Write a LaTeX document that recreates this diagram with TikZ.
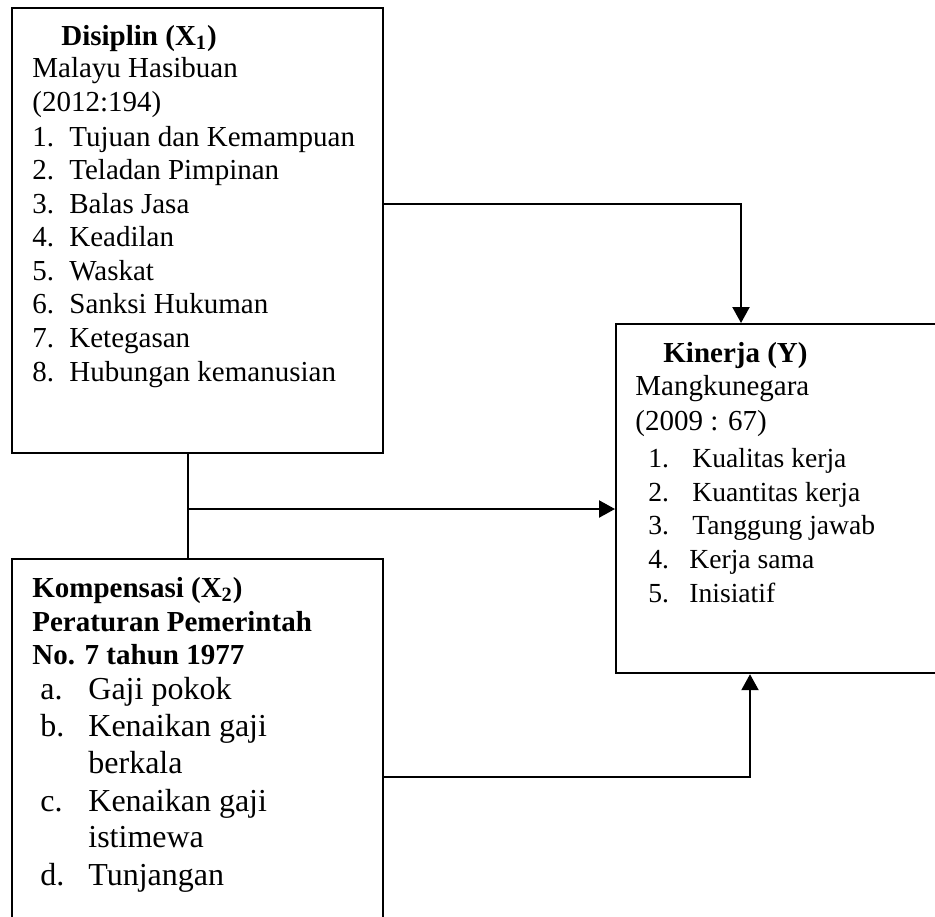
\documentclass[tikz,border=0pt]{standalone}
\usepackage{fontspec}
\setmainfont{Liberation Serif}
\usetikzlibrary{arrows.meta}

\tikzset{
  box/.style={draw,line width=1.1pt,inner sep=0pt,anchor=north west},
  txt/.style={anchor=base west,inner sep=0pt,font=\fontsize{14.5}{17}\selectfont},
  bigtxt/.style={txt,font=\fontsize{16}{19}\selectfont},
  smalltxt/.style={txt,font=\fontsize{13.8}{16}\selectfont},
  head/.style={txt,font=\fontsize{14.5}{17}\selectfont\bfseries},
  arrow/.style={line width=1.1pt,-{Triangle[length=8pt,width=8.5pt]}},
  link/.style={line width=1.1pt}
}

\begin{document}
\begin{tikzpicture}[x=0.5pt,y=-0.5pt]
  \useasboundingbox (0,0) rectangle (935,916);
  \clip (0,0) rectangle (935,916);

  % boxes
  \node[box,minimum width=185.5pt,minimum height=222.5pt] (x1) at (11,7) {};
  \node[box,minimum width=185.5pt,minimum height=191pt] (x2) at (11,558) {};
  \node[box,minimum width=180pt,minimum height=174.5pt] (y) at (615,323) {};

  % Disiplin
  \node[head] (h1) at (61,45) {Disiplin (X\textsubscript{1})};
  \node[txt] (s1) at (32,77) {Malayu Hasibuan};
  \node[txt] (r1) at (32,111) {(2012:194)};
  \foreach \n/\t/\yy in {1/Tujuan dan Kemampuan/146,2/Teladan Pimpinan/179,
      3/Balas Jasa/213,4/Keadilan/246,5/Waskat/280,6/Sanksi Hukuman/313,
      7/Ketegasan/347,8/Hubungan kemanusian/381}
    {
      \node[txt] (d\n) at (32,\yy) {\n.};
      \node[txt] (dt\n) at (69,\yy) {\t};
    }

  % Kompensasi
  \node[head] (h2) at (32,597) {Kompensasi (X\textsubscript{2})};
  \node[head] (s2) at (32,631) {Peraturan Pemerintah};
  \node[head] (r2) at (32,664) {No. 7 tahun 1977};
  \node[bigtxt] (ka) at (40,699) {a.};
  \node[bigtxt] (kta) at (88,699) {Gaji pokok};
  \node[bigtxt] (kb) at (40,736) {b.};
  \node[bigtxt] (ktb) at (88,736) {Kenaikan gaji};
  \node[bigtxt] (ktb2) at (88,773) {berkala};
  \node[bigtxt] (kc) at (40,811) {c.};
  \node[bigtxt] (ktc) at (88,811) {Kenaikan gaji};
  \node[bigtxt] (ktc2) at (88,847) {istimewa};
  \node[bigtxt] (kd) at (40,885) {d.};
  \node[bigtxt] (ktd) at (88,885) {Tunjangan};

  % Kinerja
  \node[head] (h3) at (663,362) {Kinerja (Y)};
  \node[txt] (s3) at (635,395) {Mangkunegara};
  \node[txt] (r3) at (635,430) {(2009 : 67)};
  \foreach \n/\t/\xx/\yy in {1/Kualitas kerja/692/467,2/Kuantitas kerja/692/501,
      3/Tanggung jawab/692/534,4/Kerja sama/689/568,5/Inisiatif/689/602}
    {
      \node[smalltxt] (k\n) at (648,\yy) {\n.};
      \node[smalltxt] (kt\n) at (\xx,\yy) {\t};
    }

  % connectors
  \coordinate (j) at (188,509);
  \draw[arrow] (x1.east |- 0,204) -| (y.north -| 741,0);
  \draw[link] (x1.south -| j) -- (x2.north -| j);
  \draw[arrow] (j) -- (j -| y.west);
  \draw[arrow] (x2.east |- 0,777) -| (y.south -| 750,0);
\end{tikzpicture}
\end{document}
